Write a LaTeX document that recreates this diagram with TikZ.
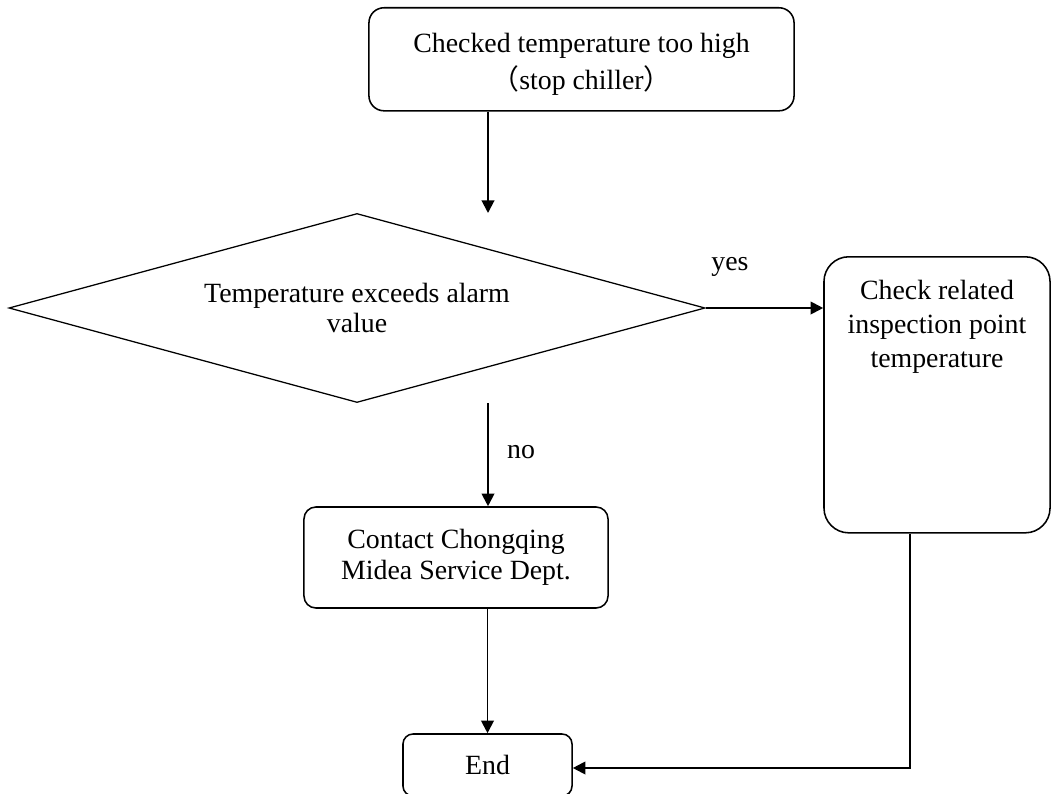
\documentclass[tikz,border=0pt]{standalone}
\usepackage{fontspec}
\setmainfont{Liberation Serif}
\newfontfamily\cjk{Noto Sans CJK SC}
\usepackage{tikz}
\usetikzlibrary{shapes.geometric, arrows.meta, positioning, calc}

\begin{document}
\begin{tikzpicture}[x=0.025cm, y=-0.025cm, font=\fontsize{19.8}{22}\selectfont,
  box/.style={draw, line width=1.1pt, align=flush center, inner sep=0pt},
  decision/.style={diamond, draw, line width=0.9pt, align=center, inner sep=0pt, shape aspect=3.68, minimum width=17.4cm, minimum height=4.725cm},
  arr/.style={line width=1.4pt, -{Triangle[length=9pt,width=9pt]}}]
  \useasboundingbox (0,0) rectangle (1051,794);
  \node[box, rounded corners=0.375cm, anchor=north, text width=10cm, inner xsep=0.3125cm, inner ysep=0pt, text height=1.125cm, text depth=1.45cm] (checked) at (581.5,7) {Checked temperature too high\\[4pt]{\cjk （}stop chiller{\cjk ）}};
  \node[decision] (exceeds) at (357,308) {Temperature exceeds alarm\\value};
  \node[box, rounded corners=0.62cm, anchor=north, text width=5cm, inner xsep=0.325cm, inner ysep=0pt, text height=1.075cm, text depth=5.825cm] (related) at (937,256) {Check related\\[2pt]inspection point\\[2pt]temperature};
  \node[box, rounded corners=0.3cm, minimum width=7.6cm, minimum height=2.525cm] (contact) at (456,557.5) {Contact Chongqing\\Midea Service Dept.};
  \node[box, rounded corners=0.25cm, minimum width=4.225cm, minimum height=1.55cm] (end) at (487.5,765) {End};
  \node (yes) at (730,267) {yes};
  \node (no) at (521,452) {no};
  \coordinate (inA) at (488,213);
  \coordinate (outB) at (488,403);
  \coordinate (turn) at (910,768);
  \draw[arr] (checked.south -| inA) -- (inA);
  \draw[arr] (exceeds.east) -- (exceeds.east -| related.west);
  \draw[arr] (outB) -- (contact.north -| outB);
  \draw[arr] (contact.south -| end.north) -- (end.north);
  \draw[arr] (related.south -| turn) -- (turn) -- (end.east |- turn);
\end{tikzpicture}
\end{document}
